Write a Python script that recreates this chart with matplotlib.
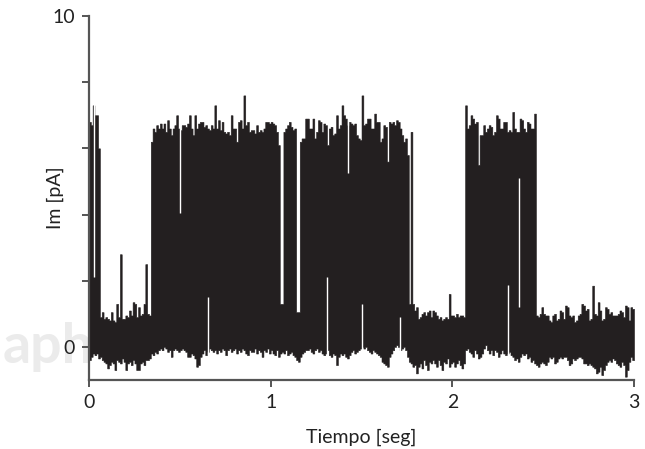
import numpy as np
import matplotlib
matplotlib.use("Agg")
import matplotlib.pyplot as plt

# single channel recording, envelope of the trace read in 10 ms bins
binWidth = 0.01
traceHigh = [
    6.8, 6.7, 7.3, 7.0, 7.0, 6.0, 0.9, 1.05, 0.85, 0.9,
    0.85, 0.8, 1.05, 0.8, 0.75, 1.3, 0.9, 2.8, 0.85, 0.85,
    0.95, 0.9, 1.1, 0.95, 1.35, 1.3, 0.9, 1.2, 0.95, 1.0,
    1.3, 2.5, 1.0, 0.95, 6.2, 6.6, 6.5, 6.7, 6.6, 6.75,
    6.6, 6.75, 6.5, 6.85, 6.6, 6.4, 6.6, 6.7, 7.0, 6.6,
    6.55, 6.7, 6.7, 6.65, 6.75, 7.0, 6.6, 6.4, 7.0, 6.6,
    6.75, 6.8, 6.8, 6.65, 6.7, 6.6, 6.55, 6.7, 6.6, 7.3,
    6.6, 6.85, 6.55, 6.8, 6.5, 6.45, 6.5, 6.4, 7.0, 6.6,
    6.6, 6.2, 6.8, 6.85, 6.6, 7.6, 6.7, 6.8, 6.5, 6.55,
    6.55, 6.45, 6.7, 6.5, 6.55, 6.5, 6.6, 6.8, 6.8, 6.75,
    6.8, 6.75, 6.7, 6.5, 6.1, 1.3, 1.3, 6.5, 6.6, 6.7,
    6.8, 6.65, 6.55, 6.6, 1.05, 1.05, 6.2, 6.3, 6.3, 6.9,
    6.9, 6.6, 6.6, 6.9, 6.3, 6.5, 6.85, 6.8, 6.5, 6.75,
    6.7, 6.1, 6.6, 6.65, 6.4, 6.45, 7.0, 6.6, 6.7, 7.3,
    7.0, 6.9, 6.7, 6.8, 6.75, 6.7, 6.75, 6.4, 6.3, 6.25,
    7.6, 6.7, 6.75, 6.9, 6.9, 6.6, 6.6, 7.05, 6.8, 6.8,
    6.2, 6.3, 6.7, 6.65, 5.6, 6.8, 6.75, 6.8, 6.7, 6.85,
    6.8, 6.6, 6.4, 6.2, 6.3, 5.8, 1.3, 6.5, 1.3, 1.1,
    1.2, 0.85, 0.9, 1.0, 1.05, 0.95, 1.05, 1.1, 0.9, 1.1,
    1.05, 0.95, 0.85, 0.9, 0.8, 0.85, 0.9, 0.85, 1.6, 0.95,
    0.95, 0.9, 1.0, 0.9, 0.95, 0.95, 0.9, 7.3, 6.6, 6.7,
    7.0, 6.9, 6.75, 6.8, 5.5, 6.4, 6.4, 6.7, 6.5, 6.6,
    6.7, 6.65, 6.4, 6.5, 7.0, 6.9, 6.6, 6.6, 6.8, 6.8,
    6.5, 6.55, 6.5, 7.1, 6.6, 6.5, 6.5, 6.9, 6.85, 6.6,
    6.5, 6.8, 6.75, 6.6, 6.6, 7.05, 0.95, 0.9, 1.0, 1.2,
    1.0, 0.95, 0.95, 0.8, 0.75, 0.95, 1.0, 0.8, 0.85, 1.1,
    1.05, 0.85, 1.25, 1.2, 0.95, 0.9, 0.95, 0.75, 0.8, 0.95,
    1.0, 1.3, 1.25, 1.1, 1.15, 0.8, 0.85, 1.85, 1.0, 0.95,
    1.35, 1.1, 0.8, 0.85, 1.2, 1.15, 1.0, 1.05, 0.95, 0.95,
    0.95, 1.0, 1.1, 1.05, 0.9, 1.25, 1.2, 0.8, 1.2, 1.15,
]
traceLow = [
    -0.4, -0.3, -0.2, -0.25, -0.2, -0.35, -0.3, -0.4, -0.45, -0.5,
    -0.65, -0.55, -0.45, -0.5, -0.7, -0.4, -0.45, -0.5, -0.35, -0.45,
    -0.7, -0.5, -0.45, -0.55, -0.4, -0.5, -0.7, -0.7, -0.5, -0.45,
    -0.55, -0.4, -0.4, -0.35, -0.2, -0.25, -0.15, -0.2, -0.1, -0.05,
    -0.1, 0.0, -0.05, -0.15, -0.1, -0.3, -0.1, -0.05, -0.1, -0.15,
    -0.1, -0.05, -0.1, -0.15, -0.3, -0.3, -0.2, -0.25, -0.35, -0.6,
    -0.55, -0.3, -0.2, -0.1, -0.25, -0.15, -0.05, -0.1, -0.15, -0.1,
    -0.2, -0.1, -0.15, -0.05, -0.1, -0.25, -0.1, -0.05, -0.15, -0.1,
    -0.05, -0.2, -0.1, -0.15, -0.05, -0.1, -0.2, -0.25, -0.1, -0.15,
    -0.15, -0.05, -0.2, -0.1, -0.15, -0.3, -0.1, -0.15, -0.05, -0.2,
    -0.1, -0.2, -0.25, -0.1, -0.3, -0.2, -0.15, -0.2, -0.1, -0.25,
    -0.2, -0.15, -0.25, -0.3, -0.4, -0.45, -0.3, -0.2, -0.15, -0.1,
    -0.1, -0.05, -0.15, -0.2, -0.1, -0.05, -0.15, -0.1, -0.2, -0.25,
    -0.2, -0.1, -0.25, -0.3, -0.2, -0.25, -0.55, -0.3, -0.2, -0.25,
    -0.2, -0.3, -0.35, -0.25, -0.15, -0.1, -0.2, -0.15, -0.1, -0.05,
    0.0, -0.05, 0.0, -0.1, -0.15, -0.2, -0.1, -0.15, -0.2, -0.25,
    -0.3, -0.45, -0.5, -0.55, -0.6, -0.3, -0.2, -0.1, 0.0, 0.05,
    0.0, -0.1, -0.05, 0.0, -0.1, -0.3, -0.45, -0.5, -0.6, -0.55,
    -0.8, -0.6, -0.5, -0.65, -0.4, -0.55, -0.7, -0.45, -0.5, -0.4,
    -0.5, -0.6, -0.4, -0.55, -0.7, -0.45, -0.5, -0.35, -0.6, -0.5,
    -0.45, -0.6, -0.5, -0.4, -0.55, -0.65, -0.5, -0.1, -0.05, -0.15,
    -0.2, -0.3, -0.1, -0.2, -0.35, -0.3, -0.2, -0.05, 0.05, -0.1,
    -0.2, -0.1, -0.25, -0.1, -0.15, -0.3, -0.2, -0.1, -0.2, -0.25,
    -0.2, -0.15, -0.25, -0.3, -0.4, -0.35, -0.45, -0.3, -0.2, -0.25,
    -0.2, -0.35, -0.3, -0.45, -0.4, -0.5, -0.55, -0.6, -0.5, -0.45,
    -0.5, -0.55, -0.45, -0.3, -0.35, -0.3, -0.5, -0.45, -0.35, -0.3,
    -0.35, -0.3, -0.3, -0.4, -0.55, -0.5, -0.35, -0.4, -0.35, -0.3,
    -0.3, -0.35, -0.5, -0.5, -0.55, -0.5, -0.55, -0.6, -0.65, -0.8,
    -0.75, -0.6, -0.85, -0.7, -0.55, -0.45, -0.4, -0.45, -0.35, -0.4,
    -0.5, -0.55, -0.6, -0.45, -0.55, -0.9, -0.7, -0.45, -0.3, -0.4,
]
# brief transitions that show as thin white lines through the trace
gapTimes = [0.029, 0.503, 0.657, 1.310, 1.427, 1.505, 1.710, 2.307, 2.367]
gapLow = [2.1, 4.05, -0.95, -0.95, 5.25, -0.95, -0.95, -0.95, 1.2]
gapHigh = [7.8, 7.8, 1.5, 2.1, 7.8, 1.3, 0.9, 1.86, 5.1]

xTicks = [0, 1, 2, 3]
yTicks = [0, 2, 4, 6, 8, 10]
yTickLabels = ["0", "", "", "", "", "10"]

plt.rcParams['font.family'] = ['Lato', 'DejaVu Sans']

fig = plt.figure(figsize=(6.45, 4.49), dpi=100)
ax = fig.add_axes([0.138, 0.1537, 0.845, 0.8107])

edges = np.arange(len(traceHigh) + 1) * binWidth
hi = traceHigh + [traceHigh[-1]]
lo = traceLow + [traceLow[-1]]
traceColor = "#231f20"
ax.fill_between(edges, lo, hi, step="post", color=traceColor, lw=0.4, zorder=1)
ax.vlines(gapTimes, gapLow, gapHigh, color="white", lw=1.0, zorder=1.5)

ax.set_xlim(0, 3)
ax.set_ylim(-1.0, 10.0)
ax.set_xticks(xTicks)
ax.set_yticks(yTicks)
ax.set_yticklabels(yTickLabels)

for side in ["top", "right"]:
    ax.spines[side].set_visible(False)
for side in ["left", "bottom"]:
    ax.spines[side].set_color("#555555")
    ax.spines[side].set_linewidth(1.6)
ax.tick_params(direction="out", length=5, width=1.4, color="#555555",
               labelsize=14, labelcolor="#222222", pad=5)

ax.set_xlabel("Tiempo [seg]", fontsize=14, color="#222222", labelpad=13)
ax.set_ylabel("Im [pA]", fontsize=14, color="#222222")
ax.yaxis.set_label_coords(-0.045, 0.5)

# faint watermark at the left edge, behind the tick labels
ax.text(3 / 645, 1 - 363 / 449, "aph", transform=fig.transFigure,
        fontsize=40, fontweight="bold", color="#ebebeb", ha="left",
        va="baseline", zorder=0, clip_on=False)

fig.savefig("out.png", dpi=100)
